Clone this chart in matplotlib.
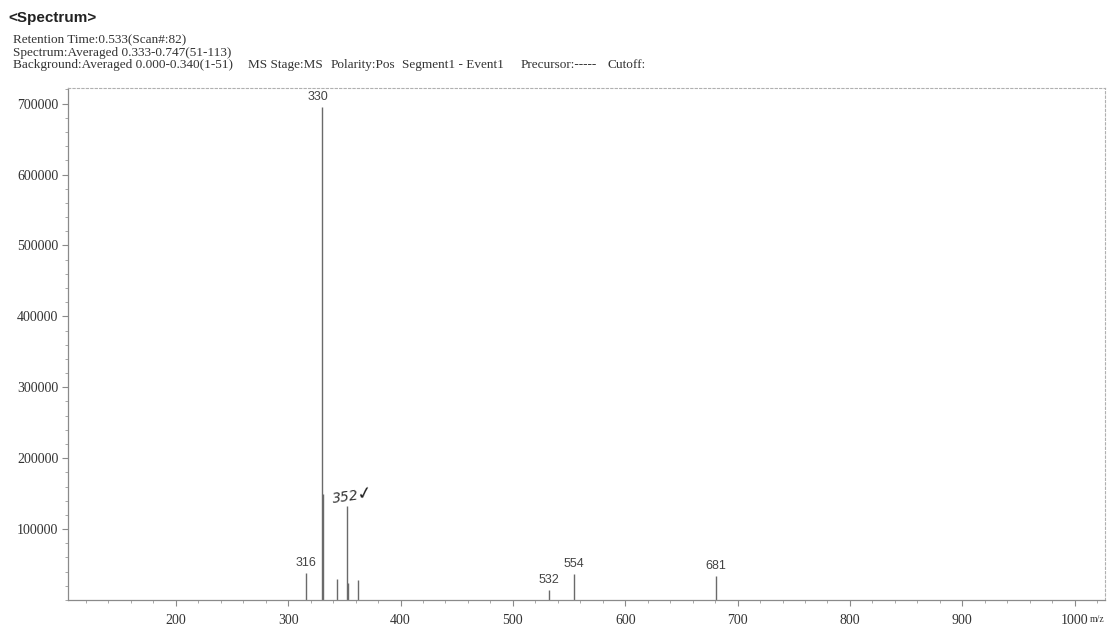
import matplotlib
matplotlib.use("Agg")
import matplotlib.pyplot as plt
from matplotlib.ticker import MultipleLocator, FixedLocator

# ---- data ----
mz = [316, 330, 331, 343, 352, 353, 362, 532, 554, 681]
intensity = [38000, 695000, 149000, 30000, 132000, 24000, 28000, 14000, 37000, 34000]
labelled_mz = [316, 330, 532, 554, 681]
x_ticks = [200, 300, 400, 500, 600, 700, 800, 900, 1000]
y_ticks = [100000, 200000, 300000, 400000, 500000, 600000, 700000]
header_title = "<Spectrum>"
header_lines = [
    "Retention Time:0.533(Scan#:82)",
    "Spectrum:Averaged 0.333-0.747(51-113)",
]
background_fields = [
    "Background:Averaged 0.000-0.340(1-51)",
    "MS Stage:MS",
    "Polarity:Pos",
    "Segment1 - Event1",
    "Precursor:-----",
    "Cutoff:",
]
background_field_x = [13, 248, 331, 402, 521, 608]
hand_note = "352"

W, H = 1110, 629
fig = plt.figure(figsize=(W / 100, H / 100), dpi=100)
fig.patch.set_facecolor("white")

ax = fig.add_axes([68 / W, 1 - 600 / H, (1105 - 68) / W, (600 - 88) / H])
ax.set_xlim(104, 1027)
ax.set_ylim(0, 722000)

line_col = "#6a6a6a"
ax.vlines(mz, 0, intensity, colors=line_col, linewidth=1.0)

for m, v in zip(mz, intensity):
    if m in labelled_mz:
        ax.annotate(str(m), (m, v), xytext=(-3 if m == 330 else 0, 3),
                    textcoords="offset points", ha="center", va="bottom",
                    fontsize=9, color="#444444", family="Liberation Sans")

# handwritten annotation near the 352 peak
i352 = mz.index(352)
ax.annotate(hand_note, (mz[i352], intensity[i352]), xytext=(-11, 0),
            textcoords="offset points", ha="left", va="bottom",
            fontsize=10, color="#333333", rotation=8, style="italic",
            family="DejaVu Sans")
ax.annotate("\u2713", (mz[i352], intensity[i352]), xytext=(6, 2),
            textcoords="offset points", ha="left", va="bottom",
            fontsize=13, color="#222222", rotation=10, family="DejaVu Sans")

# axes styling
for side in ["top", "right"]:
    ax.spines[side].set_color("#b0b0b0")
    ax.spines[side].set_linestyle((0, (2, 2)))
    ax.spines[side].set_linewidth(0.8)
for side in ["left", "bottom"]:
    ax.spines[side].set_color("#8a8a8a")
    ax.spines[side].set_linewidth(0.9)

ax.xaxis.set_major_locator(FixedLocator(x_ticks))
ax.yaxis.set_major_locator(FixedLocator(y_ticks))
ax.xaxis.set_minor_locator(MultipleLocator(20))
ax.yaxis.set_minor_locator(MultipleLocator(20000))
ax.set_xticklabels([str(t) for t in x_ticks])
ax.set_yticklabels([str(t) for t in y_ticks])
ax.tick_params(axis="both", which="major", direction="out", length=4, width=0.8,
               color="#8a8a8a", labelsize=10, labelcolor="#333333")
ax.tick_params(axis="both", which="minor", direction="out", length=2, width=0.6,
               color="#9a9a9a")
ax.tick_params(axis="x", pad=6)
ax.tick_params(axis="y", pad=3)
for lab in ax.get_xticklabels() + ax.get_yticklabels():
    lab.set_family("Liberation Serif")

# header text
fig.text(8 / W, 1 - 18 / H, header_title, fontsize=11, fontweight="bold",
         family="Liberation Sans", va="center", ha="left", color="#222222")
for k, line in enumerate(header_lines):
    fig.text(13 / W, 1 - (40.5 + 12.2 * k) / H, line, fontsize=9.5,
             family="Liberation Serif", va="center", ha="left", color="#333333")
for xpos, field in zip(background_field_x, background_fields):
    fig.text(xpos / W, 1 - 64.9 / H, field, fontsize=9.5,
             family="Liberation Serif", va="center", ha="left", color="#333333")

fig.text(1097 / W, 1 - 620 / H, "m/z", fontsize=7, family="Liberation Serif",
         ha="center", va="center", color="#333333")

fig.savefig("out.png", dpi=100, facecolor="white")
